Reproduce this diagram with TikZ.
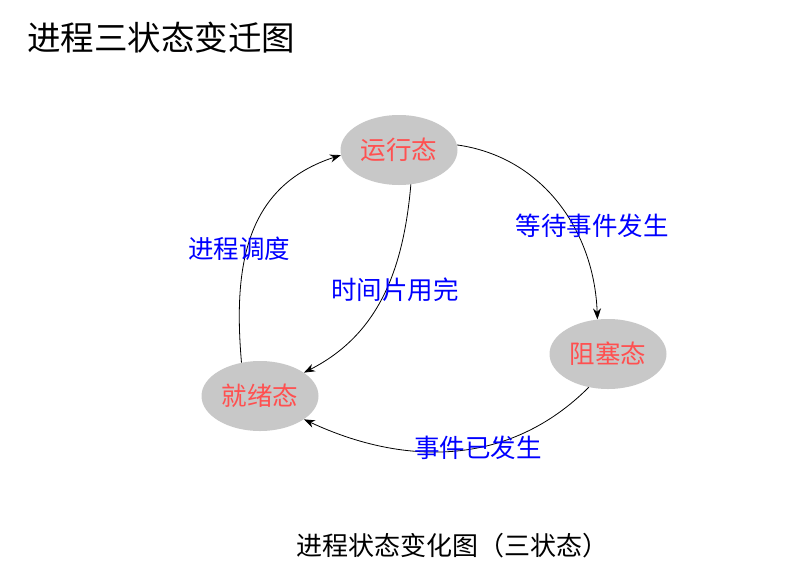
\documentclass[tikz,border=0pt]{standalone}
\usepackage{fontspec}
\setmainfont{Noto Sans CJK SC}
\usetikzlibrary{arrows.meta,shapes.geometric,positioning}
\definecolor{stategray}{RGB}{200,200,200}
\definecolor{statered}{RGB}{255,80,80}
\definecolor{lblblue}{RGB}{0,0,255}

\begin{document}
\begin{tikzpicture}[x=1pt, y=-1pt,
    state/.style={ellipse, fill=stategray, minimum width=117pt, minimum height=70pt,
      inner sep=0pt, text=statered, font=\fontsize{25.5}{28}\selectfont},
    lbl/.style={text=lblblue, font=\fontsize{25.5}{28}\selectfont},
    trans/.style={black, line width=0.8pt, -{Stealth[length=11pt,width=8pt]}}]
  \useasboundingbox (0,0) rectangle (793,582);
  % Title
  \node[anchor=west, inner sep=0pt, font=\fontsize{33.5}{36}\selectfont] (title) at (27,38) {进程三状态变迁图};
  % States
  \node[state] (run) at (399,150) {运行态};
  \node[state] (ready) at (260,396) {就绪态};
  \node[state] (block) at (608,354) {阻塞态};
  % Transitions
  \draw[trans] (ready.119) to[out=95, in=198, looseness=1.1] (run.185);
  \draw[trans] (run.289) to[out=265, in=27] (ready.28);
  \draw[trans] (run.5) to[out=-8, in=92] (block.107);
  \draw[trans] (block.240) to[out=225, in=335] (ready.332);
  % Transition labels
  \node[lbl] (sched) at (239,249) {进程调度};
  \node[lbl] (slice) at (395,290) {时间片用完};
  \node[lbl] (wait) at (592,226) {等待事件发生};
  \node[lbl] (event) at (478,448) {事件已发生};
  % Caption
  \node[font=\fontsize{26}{30}\selectfont] (caption) at (452,546) {进程状态变化图（三状态）};
\end{tikzpicture}
\end{document}
